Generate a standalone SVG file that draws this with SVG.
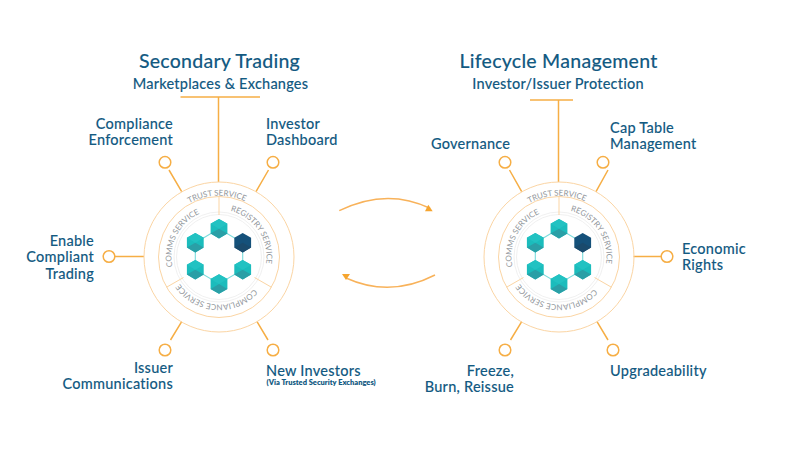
<svg xmlns="http://www.w3.org/2000/svg" width="800" height="450" viewBox="0 0 800 450">
<style>
text{font-family:"Lato","Open Sans","Liberation Sans",sans-serif;fill:#135a82;font-weight:500}
.t{font-size:19.5px;text-anchor:middle;letter-spacing:.25px;stroke:#135a82;stroke-width:.1px}
.s{font-size:14.5px;text-anchor:middle;letter-spacing:.22px;stroke:#135a82;stroke-width:.1px}
.l{font-size:14.5px;letter-spacing:.25px;stroke:#135a82;stroke-width:.1px}
.e{text-anchor:end}
.x{font-size:7.5px;font-weight:800}
.c{font-size:8px;fill:#92979c;text-anchor:middle;font-weight:400;letter-spacing:0}
.sp{fill:none;stroke:#f6ae45;stroke-width:1.5}
.th{fill:none;stroke:#fbd5a4;stroke-width:1}
.gr{fill:none;stroke:#ececec;stroke-width:.8}
.cn{fill:none;stroke:#7adcdc;stroke-width:1.1}
.ar{fill:none;stroke:#f8b25a;stroke-width:1.5}
.ah{fill:#f6a52f}
</style>
<defs>
<path id="ao" d="M-61.500 0A61.500 61.500 0 0 1 61.500 0"/>
<path id="ai" d="M-47.500 0A47.500 47.500 0 0 1 47.500 0"/>
<g id="hx"><polygon points="0,-9.800 8.400,-4.900 8.400,4.900 0,9.800 -8.400,4.900 -8.400,-4.900" fill="#1bbcbc"/><polygon points="0,0 8.400,4.900 0,9.800 -8.400,4.900" fill="#2a9fa6"/><polygon points="0,-9.800 8.400,-4.900 0,0 -8.400,-4.900" fill="#22c2c2"/></g>
<g id="hd"><polygon points="0,-9.800 8.400,-4.900 8.400,4.900 0,9.800 -8.400,4.900 -8.400,-4.900" fill="#15517a"/><polygon points="0,0 8.400,4.900 0,9.800 -8.400,4.900" fill="#1a4a6c"/></g>
<g id="rg">
<circle class="th" r="75"/><circle class="th" r="60.500"/><circle class="gr" r="45"/><circle class="gr" r="42.500"/>
<path class="th" d="M0-60.500V-42M-52.400 30.200L-35.500 20.500M52.400 30.200L35.500 20.500"/>
<path class="cn" d="M0-28.300L23.700-14.300V12.700L0 26.700L-23.700 12.700V-14.300Z"/>
<use href="#hx" x="0" y="-28.300"/><use href="#hx" x="-23.700" y="-14.300"/><use href="#hd" x="23.700" y="-14.300"/><use href="#hx" x="-23.700" y="12.700"/><use href="#hx" x="23.700" y="12.700"/><use href="#hx" x="0" y="27"/>
</g>
</defs>
<g id="connectors">
<path class="sp" d="M180.500 97H260M218.500 97V182M169 170L181.700 191.700M268.500 170L256 191.700M115 256.500H144M170.500 340L181.700 321.700M268 340L257 321.700"/>
<path class="sp" d="M530 100H573M558.500 100V182M509.500 170L521.700 191.700M608 170L596 191.700M633.500 256.500H661M510.500 340L521.700 321.700M608 340L597 321.700"/>
<path class="ar" d="M339.300 210.700Q386.500 187.500 430 208.300"/><polygon class="ah" points="428.300,204.700 425,211.300 432.700,211.300"/>
<path class="ar" d="M435 275Q390 298 346 278"/><polygon class="ah" points="342,274 350,274 346,280"/>
</g>
<g id="hub-left" transform="translate(219 257)">
<use href="#rg"/>
<text class="c" transform="rotate(-2)"><textPath href="#ao" startOffset="50%">TRUST SERVICE</textPath></text>
<text class="c" transform="rotate(56)"><textPath href="#ai" startOffset="50%">REGISTRY SERVICE</textPath></text>
<text class="c" transform="rotate(-63)"><textPath href="#ai" startOffset="50%">COMMS SERVICE</textPath></text>
<text class="c" transform="rotate(184)"><textPath href="#ai" startOffset="50%">COMPLIANCE SERVICE</textPath></text>
</g>
<g id="hub-right" transform="translate(559 257)">
<use href="#rg"/>
<text class="c" transform="rotate(-2)"><textPath href="#ao" startOffset="50%">TRUST SERVICE</textPath></text>
<text class="c" transform="rotate(56)"><textPath href="#ai" startOffset="50%">REGISTRY SERVICE</textPath></text>
<text class="c" transform="rotate(-63)"><textPath href="#ai" startOffset="50%">COMMS SERVICE</textPath></text>
<text class="c" transform="rotate(184)"><textPath href="#ai" startOffset="50%">COMPLIANCE SERVICE</textPath></text>
</g>
<g id="title-left"><text class="t" x="219.500" y="68">Secondary Trading</text><text class="s" x="220.500" y="89">Marketplaces &amp; Exchanges</text></g>
<g id="title-right"><text class="t" x="558.500" y="68">Lifecycle Management</text><text class="s" x="558" y="89">Investor/Issuer Protection</text></g>
<g id="n-enforcement"><circle class="sp" cx="165" cy="162.300" r="5.800"/><text class="l e" x="173" y="129">Compliance</text><text class="l e" x="173" y="145">Enforcement</text></g>
<g id="n-dashboard"><circle class="sp" cx="273" cy="162.300" r="5.800"/><text class="l" x="266" y="129">Investor</text><text class="l" x="266" y="145">Dashboard</text></g>
<g id="n-enable"><circle class="sp" cx="109" cy="256.500" r="5.800"/><text class="l e" x="94" y="246">Enable</text><text class="l e" x="94" y="262">Compliant</text><text class="l e" x="94" y="279">Trading</text></g>
<g id="n-issuer"><circle class="sp" cx="165" cy="350" r="5.800"/><text class="l e" x="173" y="373">Issuer</text><text class="l e" x="173" y="389">Communications</text></g>
<g id="n-newinv"><circle class="sp" cx="273" cy="350" r="5.800"/><text class="l" x="266" y="376">New Investors</text><text class="x" x="266.500" y="385">(Via Trusted Security Exchanges)</text></g>
<g id="n-governance"><circle class="sp" cx="505" cy="162.300" r="5.800"/><text class="l" x="431" y="149">Governance</text></g>
<g id="n-captable"><circle class="sp" cx="603" cy="162.300" r="5.800"/><text class="l" x="610" y="133">Cap Table</text><text class="l" x="610" y="149">Management</text></g>
<g id="n-economic"><circle class="sp" cx="667" cy="256.500" r="5.800"/><text class="l" x="682" y="254">Economic</text><text class="l" x="682" y="270">Rights</text></g>
<g id="n-freeze"><circle class="sp" cx="505" cy="350" r="5.800"/><text class="l e" x="514" y="376">Freeze,</text><text class="l e" x="514" y="392">Burn, Reissue</text></g>
<g id="n-upgrade"><circle class="sp" cx="613" cy="350" r="5.800"/><text class="l" x="610" y="376">Upgradeability</text></g>
</svg>
